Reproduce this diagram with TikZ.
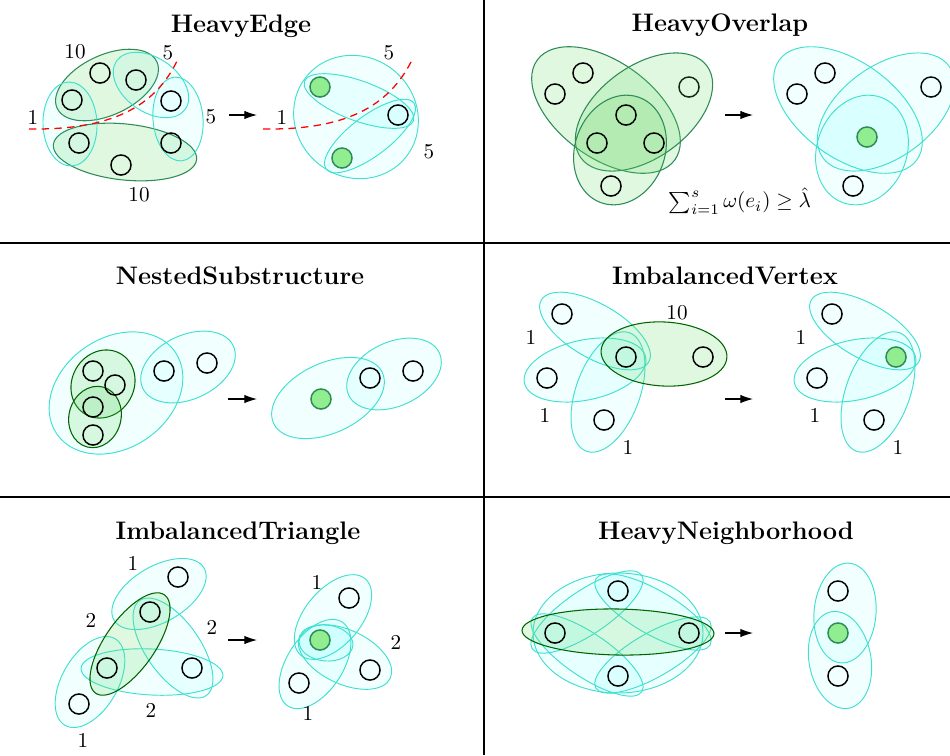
\documentclass[tikz,border=0pt]{standalone}
\usetikzlibrary{arrows.meta}
\definecolor{edgeline}{RGB}{64,224,208}
\definecolor{edgefill}{RGB}{0,255,255}
\definecolor{heavyfill}{RGB}{99,215,99}
\definecolor{heavyline}{RGB}{46,139,87}
\definecolor{heavydark}{RGB}{0,100,0}
\definecolor{mergedfill}{RGB}{144,238,144}
\begin{document}
\begin{tikzpicture}[x=0.473pt,y=-0.473pt,
	vertex/.style={circle,draw=black,line width=0.7pt,minimum size=9.5pt,inner sep=0pt},
	merged/.style={vertex,fill=mergedfill,draw=heavyline},
	lightedge/.style={draw=edgeline,line width=0.45pt,fill=edgefill,fill opacity=0.05},
	heavyedge/.style={draw=heavyline,line width=0.5pt,fill=heavyfill,fill opacity=0.2},
	darkedge/.style={heavyedge,draw=heavydark},
	paneltitle/.style={font=\large\bfseries,anchor=base},
	wlabel/.style={inner sep=0pt},
	reduce/.style={-{Latex[length=6pt,width=4pt]},line width=0.5pt},
	cutline/.style={red,line width=0.6pt,dash pattern=on 3.5pt off 2.5pt}]
	\useasboundingbox (0,0) rectangle (950,755);
	\draw[line width=0.55pt] (484,0) -- (484,755);
	\draw[line width=0.55pt] (0,243) -- (950,243);
	\draw[line width=0.55pt] (0,497) -- (950,497);

	\node[paneltitle] (heTitle) at (241,32) {HeavyEdge};
	\draw[heavyedge, rotate around={25:(107,85)}] (107,85) ellipse (55 and 30);
	\draw[heavyedge, rotate around={-6:(125,152)}] (125,152) ellipse (72 and 28);
	\draw[lightedge, rotate around={-35:(151,85)}] (151,85) ellipse (42 and 27);
	\draw[lightedge, rotate around={95:(178,119)}] (178,119) ellipse (42 and 25);
	\draw[lightedge, rotate around={92:(70,124)}] (70,124) ellipse (42 and 27);
	\node[vertex] (he1) at (100,73) {};
	\node[vertex] (he2) at (136,80) {};
	\node[vertex] (he3) at (72,100) {};
	\node[vertex] (he4) at (171,101) {};
	\node[vertex] (he5) at (79,143) {};
	\node[vertex] (he6) at (171,143) {};
	\node[vertex] (he7) at (121,165) {};
	\draw[cutline] (29,129) .. controls (110,130) and (155,108) .. (178,59);
	\node[wlabel] (heW1) at (75,52) {10};
	\node[wlabel] (heW2) at (139,195) {10};
	\node[wlabel] (heW3) at (168,53) {5};
	\node[wlabel] (heW4) at (211,117) {5};
	\node[wlabel] (heW5) at (33,117) {1};
	\coordinate (heFrom) at (229,115);
	\coordinate (heTo) at (257,115);
	\draw[reduce] (heFrom) -- (heTo);
	\draw[lightedge, rotate around={-40:(356,117)}] (356,117) ellipse (64 and 60);
	\draw[lightedge, rotate around={-20:(359,101)}] (359,101) ellipse (58 and 20);
	\draw[lightedge, rotate around={37:(370,136)}] (370,136) ellipse (55 and 20);
	\node[merged] (heR1) at (320,87) {};
	\node[merged] (heR2) at (342,158) {};
	\node[vertex] (heR3) at (398,115) {};
	\draw[cutline] (263,129) .. controls (344,130) and (389,108) .. (413,58);
	\node[wlabel] (heRW1) at (389,53) {5};
	\node[wlabel] (heRW2) at (282,117) {1};
	\node[wlabel] (heRW3) at (429,152) {5};

	\node[paneltitle] (hoTitle) at (720,31) {HeavyOverlap};
	\node[vertex] (ho7) at (689,87) {};
	\draw[heavyedge, rotate around={-36:(606,110)}] (606,110) ellipse (85 and 48);
	\draw[heavyedge, rotate around={36:(644,112)}] (644,112) ellipse (78 and 46);
	\draw[heavyedge, rotate around={70:(620,150)}] (620,150) ellipse (56 and 45);
	\node[vertex] (ho1) at (583,73) {};
	\node[vertex] (ho2) at (555,94) {};
	\node[vertex] (ho3) at (626,115) {};
	\node[vertex] (ho4) at (597,143) {};
	\node[vertex] (ho5) at (654,143) {};
	\node[vertex] (ho6) at (611,186) {};
	\node (hoSum) at (740,201) {$\sum_{i=1}^{s}\omega(e_i)\geq\hat{\lambda}$};
	\coordinate (hoFrom) at (725,115);
	\coordinate (hoTo) at (753,115);
	\draw[reduce] (hoFrom) -- (hoTo);
	\node[vertex] (hoR5) at (931,87) {};
	\draw[lightedge, rotate around={-36:(848,110)}] (848,110) ellipse (85 and 48);
	\draw[lightedge, rotate around={36:(886,112)}] (886,112) ellipse (78 and 46);
	\draw[lightedge, rotate around={70:(862,150)}] (862,150) ellipse (56 and 45);
	\node[vertex] (hoR1) at (825,73) {};
	\node[vertex] (hoR2) at (797,94) {};
	\node[merged] (hoR3) at (867,137) {};
	\node[vertex] (hoR4) at (853,186) {};

	\node[paneltitle] (nsTitle) at (240,284) {NestedSubstructure};
	\draw[lightedge, rotate around={35:(116,393)}] (116,393) ellipse (72 and 55);
	\draw[lightedge, rotate around={25:(188,367)}] (188,367) ellipse (50 and 32);
	\draw[darkedge, rotate around={60:(103,384)}] (103,384) ellipse (35 and 31);
	\draw[darkedge, rotate around={75:(95,417)}] (95,417) ellipse (31 and 26);
	\node[vertex] (ns1) at (93,371) {};
	\node[vertex] (ns2) at (115,385) {};
	\node[vertex] (ns3) at (93,407) {};
	\node[vertex] (ns4) at (93,435) {};
	\node[vertex] (ns5) at (164,371) {};
	\node[vertex] (ns6) at (207,363) {};
	\coordinate (nsFrom) at (228,399);
	\coordinate (nsTo) at (257,399);
	\draw[reduce] (nsFrom) -- (nsTo);
	\draw[lightedge, rotate around={25:(328,398)}] (328,398) ellipse (60 and 35);
	\draw[lightedge, rotate around={25:(394,374)}] (394,374) ellipse (50 and 32);
	\node[merged] (nsR1) at (321,399) {};
	\node[vertex] (nsR2) at (370,378) {};
	\node[vertex] (nsR3) at (413,371) {};

	\node[paneltitle] (ivTitle) at (725,284) {ImbalancedVertex};
	\draw[lightedge, rotate around={-30:(595,331)}] (595,331) ellipse (62 and 27);
	\draw[lightedge, rotate around={12:(585,370)}] (585,370) ellipse (62 and 30);
	\draw[lightedge, rotate around={70:(608,392)}] (608,392) ellipse (63 and 32);
	\draw[darkedge, rotate around={-3:(664,354)}] (664,354) ellipse (63 and 32);
	\node[vertex] (iv1) at (562,314) {};
	\node[vertex] (iv2) at (626,357) {};
	\node[vertex] (iv3) at (703,357) {};
	\node[vertex] (iv4) at (547,378) {};
	\node[vertex] (iv5) at (604,420) {};
	\node[wlabel] (ivW1) at (677,313) {10};
	\node[wlabel] (ivW2) at (531,337) {1};
	\node[wlabel] (ivW3) at (545,415) {1};
	\node[wlabel] (ivW4) at (628,447) {1};
	\coordinate (ivFrom) at (725,399);
	\coordinate (ivTo) at (753,399);
	\draw[reduce] (ivFrom) -- (ivTo);
	\draw[lightedge, rotate around={-30:(865,331)}] (865,331) ellipse (62 and 27);
	\draw[lightedge, rotate around={12:(855,370)}] (855,370) ellipse (62 and 30);
	\draw[lightedge, rotate around={70:(878,392)}] (878,392) ellipse (63 and 32);
	\node[vertex] (ivR1) at (832,314) {};
	\node[merged] (ivR2) at (896,357) {};
	\node[vertex] (ivR3) at (817,378) {};
	\node[vertex] (ivR4) at (874,420) {};
	\node[wlabel] (ivRW1) at (801,337) {1};
	\node[wlabel] (ivRW2) at (815,415) {1};
	\node[wlabel] (ivRW3) at (898,447) {1};

	\node[paneltitle] (itTitle) at (238,539) {ImbalancedTriangle};
	\draw[lightedge, rotate around={30:(159,594)}] (159,594) ellipse (52 and 28);
	\draw[lightedge, rotate around={-55:(173,648)}] (173,648) ellipse (58 and 27);
	\draw[lightedge, rotate around={-3:(152,672)}] (152,672) ellipse (71 and 23);
	\draw[lightedge, rotate around={60:(90,682)}] (90,682) ellipse (50 and 28);
	\draw[darkedge, rotate around={55:(130,644)}] (130,644) ellipse (60 and 25);
	\node[vertex] (it1) at (178,577) {};
	\node[vertex] (it2) at (150,612) {};
	\node[vertex] (it3) at (107,668) {};
	\node[vertex] (it4) at (192,668) {};
	\node[vertex] (it5) at (79,704) {};
	\node[wlabel] (itW1) at (133,563) {1};
	\node[wlabel] (itW2) at (91,620) {2};
	\node[wlabel] (itW3) at (212,627) {2};
	\node[wlabel] (itW4) at (151,710) {2};
	\node[wlabel] (itW5) at (83,740) {1};
	\coordinate (itFrom) at (228,640);
	\coordinate (itTo) at (257,640);
	\draw[reduce] (itFrom) -- (itTo);
	\draw[lightedge, rotate around={50:(333,617)}] (333,617) ellipse (50 and 28);
	\draw[lightedge, rotate around={57:(315,664)}] (315,664) ellipse (50 and 28);
	\draw[lightedge, rotate around={-25:(345,657)}] (345,657) ellipse (50 and 27);
	\draw[lightedge, rotate around={-5:(326,643)}] (326,643) ellipse (27 and 18);
	\node[vertex] (itR1) at (349,598) {};
	\node[merged] (itR2) at (320,640) {};
	\node[vertex] (itR3) at (370,670) {};
	\node[vertex] (itR4) at (299,683) {};
	\node[wlabel] (itRW1) at (317,582) {1};
	\node[wlabel] (itRW2) at (396,642) {2};
	\node[wlabel] (itRW3) at (308,713) {1};

	\node[paneltitle] (hnTitle) at (726,539) {HeavyNeighborhood};
	\draw[lightedge] (618,633) ellipse (85 and 60);
	\draw[lightedge, rotate around={34:(587,612)}] (587,612) ellipse (66 and 22);
	\draw[lightedge, rotate around={-30:(653,612)}] (653,612) ellipse (66 and 22);
	\draw[lightedge, rotate around={-34:(587,655)}] (587,655) ellipse (66 and 22);
	\draw[lightedge, rotate around={30:(653,655)}] (653,655) ellipse (66 and 22);
	\draw[darkedge, rotate around={-1:(618,632)}] (618,632) ellipse (96 and 23);
	\node[vertex] (hn1) at (618,591) {};
	\node[vertex] (hn2) at (555,633) {};
	\node[vertex] (hn3) at (689,633) {};
	\node[vertex] (hn4) at (618,676) {};
	\coordinate (hnFrom) at (725,633);
	\coordinate (hnTo) at (753,633);
	\draw[reduce] (hnFrom) -- (hnTo);
	\draw[lightedge, rotate around={85:(845,613)}] (845,613) ellipse (50 and 31);
	\draw[lightedge, rotate around={100:(840,660)}] (840,660) ellipse (49 and 31);
	\node[vertex] (hnR1) at (838,591) {};
	\node[merged] (hnR2) at (838,633) {};
	\node[vertex] (hnR3) at (838,676) {};
\end{tikzpicture}
\end{document}
